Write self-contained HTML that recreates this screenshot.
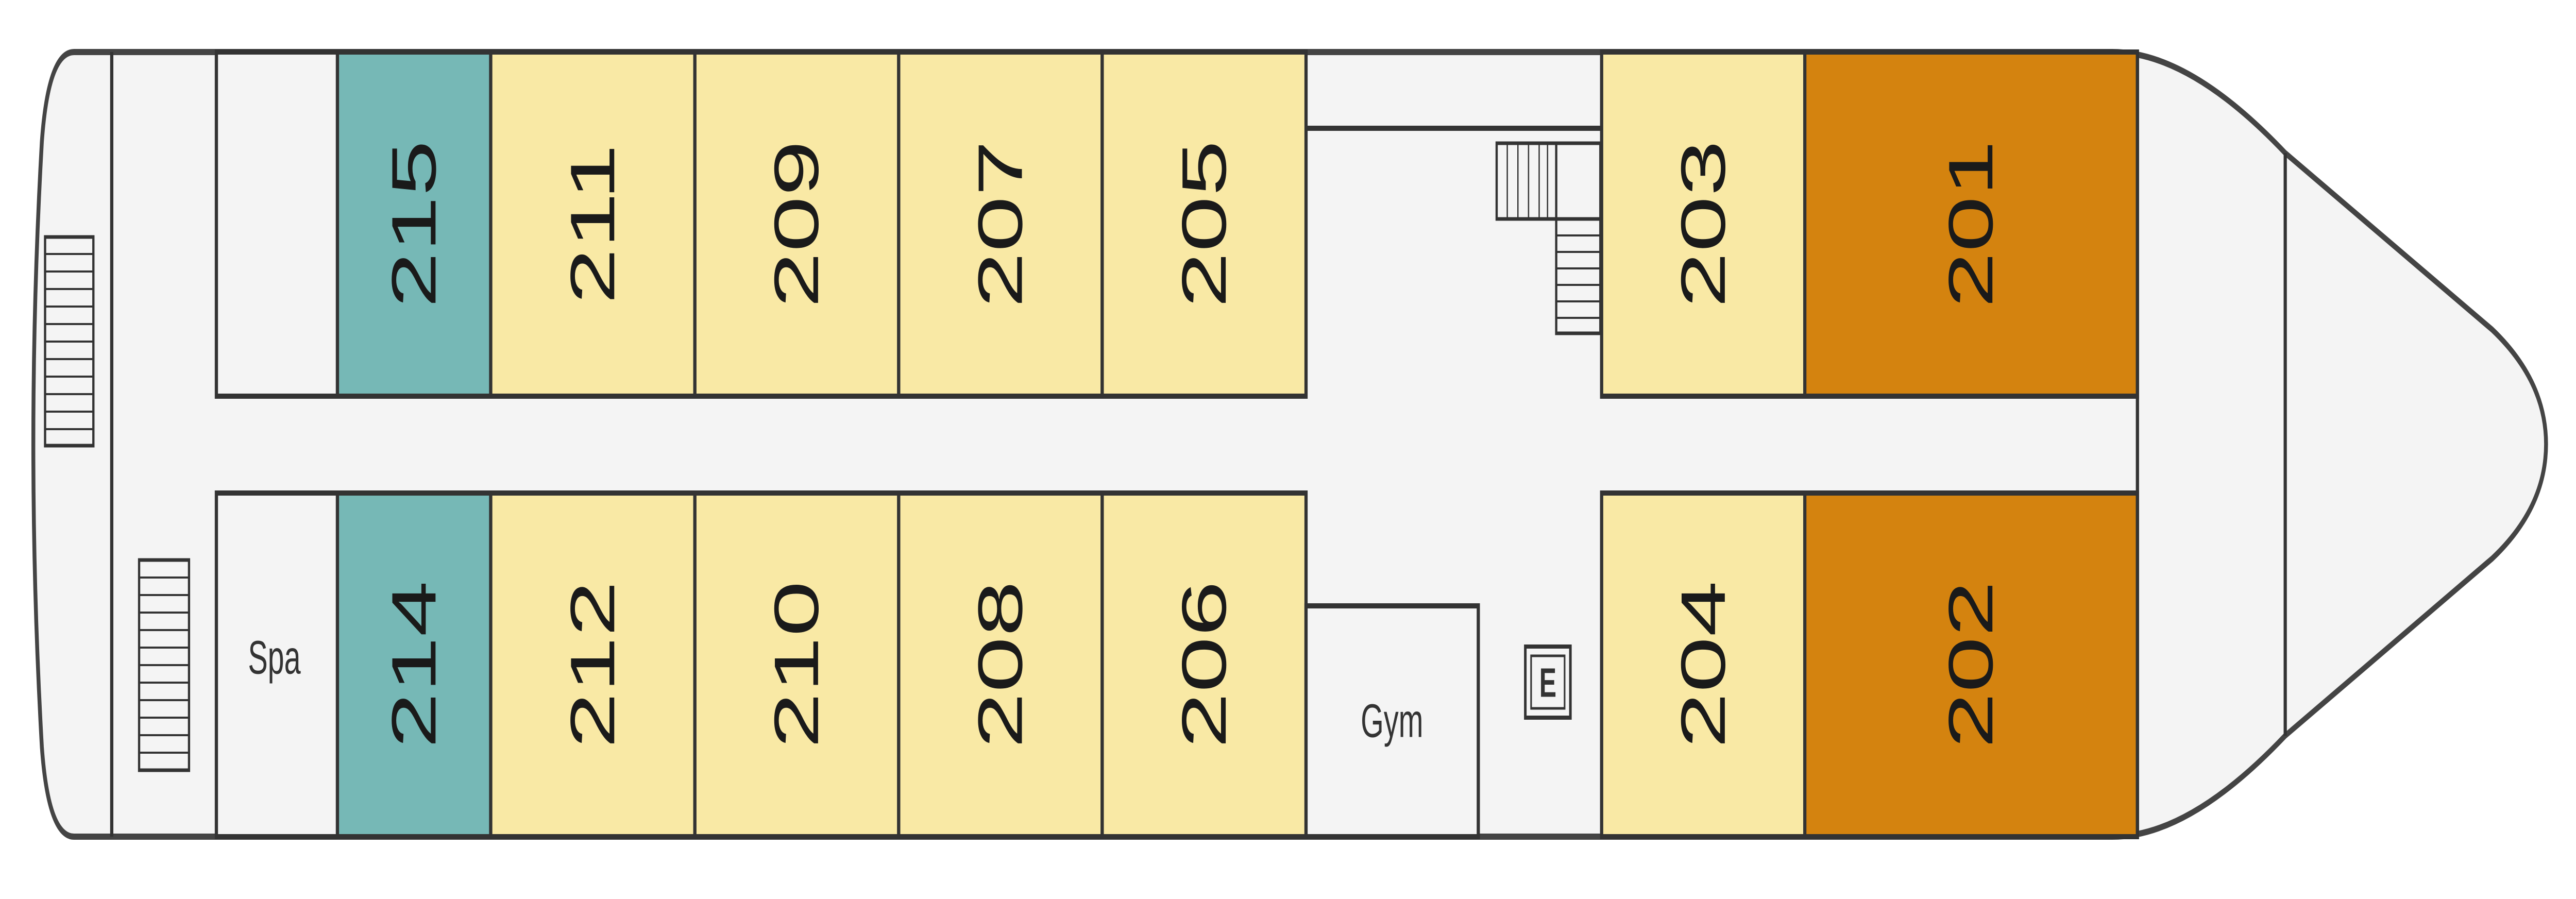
<!DOCTYPE html>
<html><head><meta charset="utf-8"><style>
html,body{margin:0;padding:0;background:#fff;width:100%;height:100%;overflow:hidden;}
svg{display:block;width:100vw;height:100vh;}
.n{font-family:"Liberation Sans",sans-serif;font-size:195px;fill:#1a1a1a;text-anchor:middle;dominant-baseline:central;}
.l{font-family:"Liberation Sans",sans-serif;font-size:92px;fill:#333;text-anchor:middle;dominant-baseline:central;}
</style></head><body>
<svg viewBox="0 0 8000 1745" preserveAspectRatio="none" xmlns="http://www.w3.org/2000/svg">
<rect width="8000" height="1745" fill="#fff"/>
<path d="M230 101 L6560 101 Q6800 101 7097 297 L7740 640 Q7907 740 7907 862 Q7907 985 7740 1084 L7097 1428 Q6800 1624 6560 1624 L230 1624 Q150 1624 130 1450 Q77 862 130 275 Q150 101 230 101 Z" fill="#f4f4f4" stroke="#444" stroke-width="12"/>
<g stroke="#333" stroke-width="10">
<rect x="672" y="101" width="376" height="668" fill="#f4f4f4"/>
<rect x="1048" y="101" width="476" height="668" fill="#76b8b6"/>
<rect x="1524" y="101" width="634" height="668" fill="#f9e9a5"/>
<rect x="2158" y="101" width="633" height="668" fill="#f9e9a5"/>
<rect x="2791" y="101" width="632" height="668" fill="#f9e9a5"/>
<rect x="3423" y="101" width="633" height="668" fill="#f9e9a5"/>
<rect x="4974" y="101" width="631" height="668" fill="#f9e9a5"/>
<rect x="5605" y="101" width="1033" height="668" fill="#d4830f"/>
<rect x="672" y="957" width="376" height="667" fill="#f4f4f4"/>
<rect x="1048" y="957" width="476" height="667" fill="#76b8b6"/>
<rect x="1524" y="957" width="634" height="667" fill="#f9e9a5"/>
<rect x="2158" y="957" width="633" height="667" fill="#f9e9a5"/>
<rect x="2791" y="957" width="632" height="667" fill="#f9e9a5"/>
<rect x="3423" y="957" width="633" height="667" fill="#f9e9a5"/>
<rect x="4056" y="1176" width="535" height="448" fill="#f4f4f4"/>
<rect x="4974" y="957" width="631" height="667" fill="#f9e9a5"/>
<rect x="5605" y="957" width="1033" height="667" fill="#d4830f"/>
<line x1="347" y1="101" x2="347" y2="1624"/>
<line x1="4056" y1="249" x2="4974" y2="249"/>
<line x1="6638" y1="101" x2="6638" y2="1624"/>
<line x1="7097" y1="297" x2="7097" y2="1428"/>
</g>
<g stroke="#333" stroke-width="7" fill="#f4f4f4">
<rect x="140" y="460" width="150" height="405"/>
<rect x="432" y="1087" width="155" height="408"/>
<rect x="4648" y="278" width="322" height="147"/>
<rect x="4833" y="425" width="137" height="222"/>
<line x1="4833" y1="278" x2="4833" y2="425"/>
</g>
<g stroke="#333" stroke-width="4">
<path d="M140 493H290M140 527H290M140 561H290M140 595H290M140 629H290M140 663H290M140 697H290M140 731H290M140 765H290M140 799H290M140 833H290"/>
<path d="M432 1121H587M432 1155H587M432 1189H587M432 1223H587M432 1257H587M432 1291H587M432 1325H587M432 1359H587M432 1393H587M432 1427H587M432 1461H587"/>
<path d="M4681 278V425M4714 278V425M4747 278V425M4780 278V425M4806 278V425"/>
<path d="M4833 457H4970M4833 489H4970M4833 521H4970M4833 553H4970M4833 585H4970M4833 617H4970"/>
</g>
<rect x="4737" y="1255" width="140" height="138" fill="#f4f4f4" stroke="#333" stroke-width="8"/>
<rect x="4755" y="1273" width="104" height="102" fill="none" stroke="#333" stroke-width="5"/>
<text x="4807" y="1326" class="l" style="font-size:80px;font-weight:bold;">E</text>
<text x="852" y="1277" class="l">Spa</text>
<text x="4323" y="1400" class="l">Gym</text>
<text class="n" transform="translate(1286,435) rotate(-90)">215</text>
<text class="n" transform="translate(1841,435) rotate(-90)">211</text>
<text class="n" transform="translate(2474,435) rotate(-90)">209</text>
<text class="n" transform="translate(3107,435) rotate(-90)">207</text>
<text class="n" transform="translate(3740,435) rotate(-90)">205</text>
<text class="n" transform="translate(5290,435) rotate(-90)">203</text>
<text class="n" transform="translate(6121,435) rotate(-90)">201</text>
<text class="n" transform="translate(1286,1290) rotate(-90)">214</text>
<text class="n" transform="translate(1841,1290) rotate(-90)">212</text>
<text class="n" transform="translate(2474,1290) rotate(-90)">210</text>
<text class="n" transform="translate(3107,1290) rotate(-90)">208</text>
<text class="n" transform="translate(3740,1290) rotate(-90)">206</text>
<text class="n" transform="translate(5290,1290) rotate(-90)">204</text>
<text class="n" transform="translate(6121,1290) rotate(-90)">202</text>
</svg>
</body></html>
